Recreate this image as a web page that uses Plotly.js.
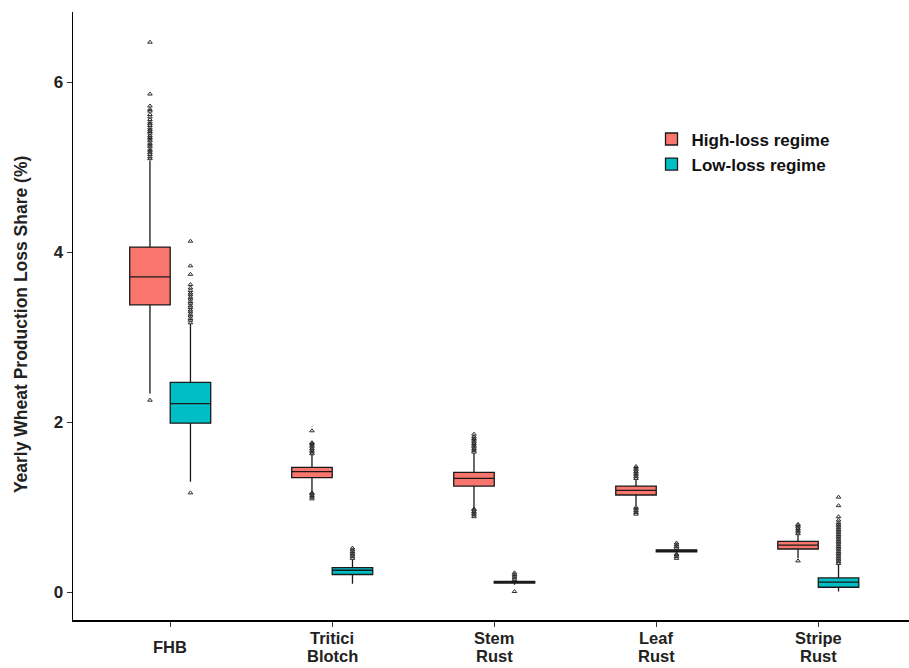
<!DOCTYPE html>
<html>
<head>
<meta charset="utf-8">
<script src="https://cdn.plot.ly/plotly-3.0.1.min.js"></script>
<style>html,body{margin:0;padding:0;background:#fff;}#chart{width:909px;height:668px;}</style>
</head>
<body>
<div id="chart"></div>
<script>
// Categories (diseases) and tick labels (two-line labels split into lines)
const categories = ["FHB", "Tritici Blotch", "Stem Rust", "Leaf Rust", "Stripe Rust"];
const labelLine1 = ["FHB", "Tritici", "Stem", "Leaf", "Stripe"];
const labelLine2 = ["", "Blotch", "Rust", "Rust", "Rust"];
const yTickVals = [0, 2, 4, 6];
const yTickText = ["0", "2", "4", "6"];

// High-loss regime box statistics
const highQ1     = [3.38, 1.35, 1.25, 1.145, 0.51];
const highMedian = [3.71, 1.42, 1.34, 1.20, 0.555];
const highQ3     = [4.06, 1.47, 1.41, 1.25, 0.60];
const highLower  = [2.34, 1.18, 0.99, 1.02, 0.40];
const highUpper  = [5.08, 1.62, 1.64, 1.33, 0.68];

// Low-loss regime box statistics
const lowQ1     = [1.99, 0.21, 0.11, 0.475, 0.06];
const lowMedian = [2.22, 0.26, 0.12, 0.485, 0.12];
const lowQ3     = [2.47, 0.29, 0.13, 0.50, 0.17];
const lowLower  = [1.30, 0.10, 0.09, 0.46, 0.01];
const lowUpper  = [3.16, 0.39, 0.14, 0.51, 0.33];

// Outliers
const highOutliers = [
  [2.26, 5.10, 5.12, 5.15, 5.17, 5.19, 5.21, 5.24, 5.26, 5.28, 5.31, 5.33, 5.35, 5.37, 5.40, 5.42, 5.44, 5.46, 5.49, 5.51, 5.53, 5.56, 5.59, 5.62, 5.66, 5.68, 5.72, 5.86, 6.47],
  [1.10, 1.12, 1.14, 1.16, 1.17, 1.63, 1.65, 1.67, 1.69, 1.71, 1.73, 1.75, 1.76, 1.90],
  [0.89, 0.91, 0.93, 0.95, 0.97, 0.98, 1.65, 1.67, 1.69, 1.71, 1.73, 1.75, 1.77, 1.79, 1.81, 1.83, 1.86],
  [0.92, 0.94, 0.96, 0.98, 1.00, 1.34, 1.36, 1.38, 1.40, 1.42, 1.44, 1.46, 1.48],
  [0.37, 0.69, 0.71, 0.73, 0.75, 0.77, 0.79, 0.80]
];
const lowOutliers = [
  [1.17, 3.17, 3.20, 3.22, 3.25, 3.27, 3.30, 3.32, 3.35, 3.37, 3.40, 3.42, 3.45, 3.47, 3.50, 3.52, 3.55, 3.58, 3.62, 3.74, 3.84, 4.13],
  [0.40, 0.42, 0.44, 0.46, 0.48, 0.50, 0.52],
  [0.01, 0.15, 0.17, 0.19, 0.21, 0.23],
  [0.40, 0.42, 0.44, 0.45, 0.52, 0.54, 0.56, 0.58],
  [0.34, 0.36, 0.38, 0.40, 0.42, 0.44, 0.46, 0.48, 0.50, 0.52, 0.54, 0.56, 0.58, 0.60, 0.62, 0.64, 0.66, 0.68, 0.70, 0.72, 0.74, 0.76, 0.78, 0.80, 0.82, 0.85, 0.89, 1.02, 1.12]
];

const highColor = "#F8766D";
const lowColor = "#00BFC4";
const halfOffset = 0.125;
const boxWidth = 0.25;
const pos = categories.map((c, i) => i);
const FONT = "Liberation Sans, Arial, sans-serif";

const traces = [
  {
    type: "box", name: "High-loss regime",
    x: pos.map(p => p - halfOffset),
    q1: highQ1, median: highMedian, q3: highQ3,
    lowerfence: highLower, upperfence: highUpper,
    width: boxWidth, whiskerwidth: 0,
    fillcolor: highColor, line: {color: "#1a1a1a", width: 1.3},
    boxpoints: false, hoverinfo: "skip"
  },
  {
    type: "box", name: "Low-loss regime",
    x: pos.map(p => p + halfOffset),
    q1: lowQ1, median: lowMedian, q3: lowQ3,
    lowerfence: lowLower, upperfence: lowUpper,
    width: boxWidth, whiskerwidth: 0,
    fillcolor: lowColor, line: {color: "#1a1a1a", width: 1.3},
    boxpoints: false, hoverinfo: "skip"
  }
];

function outlierTrace(list, sign) {
  const xs = [], ys = [];
  list.forEach((vals, i) => vals.forEach(v => { xs.push(pos[i] + sign * halfOffset); ys.push(v); }));
  return {
    type: "scatter", mode: "markers", x: xs, y: ys, showlegend: false, hoverinfo: "skip",
    marker: {symbol: "triangle-up-open", size: 4, color: "#2b2b2b", line: {width: 1, color: "#2b2b2b"}}
  };
}
traces.push(outlierTrace(highOutliers, -1));
traces.push(outlierTrace(lowOutliers, 1));

const tickFont = {size: 17, family: FONT, weight: "bold", color: "#222"};
const xLabelFont = {size: 16.5, family: FONT, weight: "bold", color: "#222"};
const annotations = [{
  text: "Yearly Wheat Production Loss Share (%)", textangle: -90,
  xref: "paper", yref: "paper", x: 0, y: 0.485, xanchor: "center", yanchor: "middle",
  xshift: -52, showarrow: false,
  font: {size: 17.5, family: FONT, weight: "bold", color: "#222"}
}];
pos.forEach((p, i) => {
  const two = labelLine2[i] !== "";
  annotations.push({
    text: labelLine1[i], x: p, xref: "x", y: 0, yref: "paper",
    xanchor: "center", yanchor: "middle", yshift: two ? -18 : -27,
    showarrow: false, font: xLabelFont, borderpad: 0
  });
  if (two) {
    annotations.push({
      text: labelLine2[i], x: p, xref: "x", y: 0, yref: "paper",
      xanchor: "center", yanchor: "middle", yshift: -36,
      showarrow: false, font: xLabelFont, borderpad: 0
    });
  }
});

const layout = {
  width: 909, height: 668,
  margin: {l: 73, r: 0, t: 12, b: 48},
  paper_bgcolor: "#fff", plot_bgcolor: "#fff",
  showlegend: true,
  boxmode: "overlay",
  font: {family: FONT, color: "#222"},
  xaxis: {
    range: [-0.6, 4.56], tickmode: "array", tickvals: pos, ticktext: pos.map(() => ""),
    showgrid: false, zeroline: false, showline: true, linecolor: "#000", linewidth: 1.5,
    ticks: "outside", ticklen: 5, tickcolor: "#333", tickwidth: 1.2,
    tickfont: tickFont
  },
  yaxis: {
    range: [-0.325, 6.825], tickmode: "array", tickvals: yTickVals, ticktext: yTickText,
    showgrid: false, zeroline: false, showline: true, linecolor: "#000", linewidth: 1.5,
    ticks: "outside", ticklen: 5, tickcolor: "#333", tickwidth: 1.2,
    tickfont: tickFont
  },
  annotations: annotations,
  legend: {
    x: 0.692, y: 0.82, xanchor: "left", yanchor: "top",
    bgcolor: "rgba(0,0,0,0)",
    font: {size: 17, family: FONT, weight: "bold", color: "#111"},
    tracegroupgap: 0
  }
};

Plotly.newPlot("chart", traces, layout, {displayModeBar: false, staticPlot: true});
</script>
</body>
</html>
